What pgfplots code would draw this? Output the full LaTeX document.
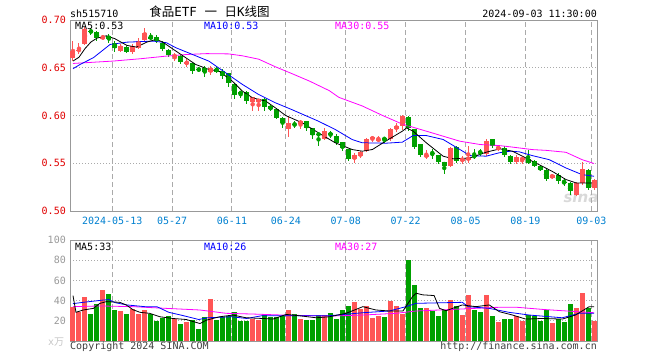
\documentclass[border=0pt]{standalone}
\usepackage{pgfplots}
\pgfplotsset{compat=1.18}
\usepackage{pgfplotstable}
\usepackage{fontspec}
\setmainfont{DejaVu Sans Mono}
\newfontfamily\cjk{Noto Sans CJK SC}
\newfontfamily\wmfont{DejaVu Sans}
\definecolor{cred}{HTML}{FF5555}
\definecolor{cgreen}{HTML}{00A000}
\definecolor{tickred}{HTML}{E00000}
\definecolor{dateblue}{HTML}{0080D0}
\definecolor{gridgray}{HTML}{AAAAAA}
\definecolor{framegray}{HTML}{999999}
\definecolor{mablue}{HTML}{0000FF}
\definecolor{mamag}{HTML}{FF00FF}

\pgfplotstableread{
i o h l c u v
0 0.660 0.678 0.657 0.668 1 33.8
1 0.668 0.676 0.664 0.669 1 28.4
2 0.675 0.693 0.674 0.691 1 44.0
3 0.689 0.692 0.684 0.687 0 27.0
4 0.687 0.689 0.678 0.681 0 36.3
5 0.681 0.684 0.680 0.682 1 50.7
6 0.683 0.685 0.676 0.680 0 47.0
7 0.676 0.678 0.667 0.671 0 30.7
8 0.668 0.675 0.667 0.673 1 29.7
9 0.672 0.673 0.665 0.667 0 27.0
10 0.666 0.675 0.664 0.673 1 31.7
11 0.671 0.681 0.670 0.678 1 27.0
12 0.679 0.692 0.678 0.686 1 30.7
13 0.682 0.686 0.679 0.681 0 27.0
14 0.682 0.684 0.676 0.678 0 20.0
15 0.676 0.678 0.668 0.670 0 23.0
16 0.669 0.670 0.661 0.663 0 25.0
17 0.6615 0.665 0.657 0.663 1 22.0
18 0.662 0.663 0.654 0.656 0 17.0
19 0.655 0.659 0.651 0.6555 1 19.0
20 0.6545 0.655 0.643 0.647 0 21.0
21 0.6485 0.6505 0.6455 0.648 0 12.0
22 0.650 0.652 0.640 0.646 0 24.0
23 0.646 0.652 0.642 0.650 1 42.0
24 0.649 0.652 0.644 0.646 0 21.0
25 0.647 0.649 0.638 0.641 0 24.0
26 0.644 0.645 0.630 0.634 0 25.0
27 0.6325 0.634 0.617 0.622 0 28.4
28 0.624 0.626 0.6185 0.6235 0 20.0
29 0.625 0.6255 0.612 0.615 0 20.0
30 0.614 0.619 0.6045 0.619 1 22.0
31 0.614 0.6175 0.6045 0.617 1 21.0
32 0.617 0.6185 0.6045 0.609 0 26.0
33 0.610 0.611 0.6045 0.6065 0 24.0
34 0.607 0.608 0.596 0.5975 0 24.0
35 0.5975 0.598 0.587 0.5925 0 25.0
36 0.586 0.599 0.5775 0.592 1 30.7
37 0.591 0.594 0.587 0.5905 0 27.0
38 0.5915 0.595 0.586 0.594 1 22.0
39 0.594 0.594 0.5835 0.587 0 21.0
40 0.587 0.587 0.5755 0.580 0 21.0
41 0.5805 0.582 0.568 0.580 0 25.7
42 0.5755 0.587 0.574 0.5835 1 25.7
43 0.581 0.5835 0.5765 0.5805 0 28.0
44 0.579 0.581 0.5695 0.5715 0 21.7
45 0.572 0.572 0.5625 0.566 0 30.7
46 0.565 0.565 0.552 0.5545 0 35.0
47 0.5545 0.561 0.5505 0.559 1 39.0
48 0.5575 0.5625 0.5555 0.5615 1 31.7
49 0.5625 0.5765 0.5615 0.575 1 35.0
50 0.575 0.579 0.5725 0.5775 1 23.0
51 0.5735 0.579 0.572 0.5755 1 25.0
52 0.5758 0.5775 0.5715 0.5755 0 24.0
53 0.5755 0.587 0.573 0.586 1 40.0
54 0.5855 0.592 0.5825 0.5895 1 35.0
55 0.5895 0.601 0.5845 0.5995 1 26.3
56 0.598 0.5995 0.5835 0.587 0 80.0
57 0.586 0.586 0.565 0.567 0 55.0
58 0.5705 0.5705 0.5565 0.559 0 32.7
59 0.5565 0.5635 0.5545 0.559 1 32.7
60 0.561 0.565 0.5545 0.5605 0 29.7
61 0.559 0.559 0.5495 0.551 0 25.0
62 0.551 0.551 0.539 0.5475 0 31.0
63 0.547 0.567 0.546 0.566 1 40.7
64 0.567 0.5685 0.5505 0.552 0 35.0
65 0.5535 0.5575 0.5495 0.554 1 26.0
66 0.554 0.568 0.5505 0.5555 1 46.0
67 0.5575 0.5645 0.554 0.557 0 30.7
68 0.5618 0.565 0.5575 0.5613 0 28.7
69 0.560 0.5755 0.558 0.573 1 46.0
70 0.5755 0.5755 0.566 0.5685 0 25.0
71 0.5645 0.5695 0.5625 0.567 1 19.0
72 0.5665 0.568 0.5565 0.559 0 21.7
73 0.5575 0.559 0.5495 0.551 0 21.7
74 0.551 0.559 0.549 0.557 1 25.0
75 0.5543 0.5566 0.5497 0.5548 1 20.0
76 0.5546 0.5636 0.549 0.5504 0 25.7
77 0.552 0.5535 0.546 0.5476 0 25.0
78 0.547 0.548 0.5415 0.5427 0 20.0
79 0.5434 0.5445 0.5315 0.533 0 30.7
80 0.5346 0.539 0.5336 0.538 1 18.3
81 0.538 0.5395 0.5287 0.531 0 21.7
82 0.5301 0.5346 0.5266 0.5297 0 19.0
83 0.5294 0.5301 0.5172 0.5207 0 36.7
84 0.5172 0.5301 0.5154 0.5294 1 33.0
85 0.5294 0.551 0.5277 0.5441 1 47.7
86 0.5434 0.5441 0.5224 0.5242 0 32.3
87 0.5242 0.5336 0.5224 0.5329 1 20.0
}\kdata

\pgfplotsset{
  sina/.style={
    scale only axis, width=527bp, anchor=north west,
    xmin=-0.5, xmax=87.5,
    axis line style={framegray, line width=1bp},
    xtick={6.55,16.55,26.55,35.55,45.55,55.55,65.55,75.55,86.55},
    xmajorgrids, ymajorgrids,
    x grid style={gridgray, dash pattern=on 5bp off 3bp, line width=1bp},
    y grid style={gridgray, dash pattern=on 1bp off 2bp, line width=1bp},
    major tick length=0pt,
    /pgf/number format/assume math mode=true,
    yticklabel style={anchor=east, inner sep=0pt, xshift=-4bp},
  },
  wick/.style={only marks, mark=none,
    restrict expr to domain={\thisrow{u}}{#1:#1}},
}

\begin{document}
\fontsize{10bp}{12bp}\selectfont
\begin{tikzpicture}
\path[use as bounding box] (0,0) rectangle (660bp,-360bp);
\node[text=gray!30, font=\wmfont\bfseries\itshape\fontsize{15bp}{15bp}\selectfont, inner sep=0pt] at (581bp,-197bp) {sina};

% ---------- price panel ----------
\begin{axis}[sina,
  at={(70bp,-20bp)}, height=191bp,
  ymin=0.50, ymax=0.70,
  ytick={0.50,0.55,0.60,0.65,0.70},
  yticklabel style={text=tickred, /pgf/number format/.cd, fixed, fixed zerofill, precision=2},
  xticklabels={2024-05-13,05-27,06-11,06-24,07-08,07-22,08-05,08-19,09-03},
  xticklabel style={text=dateblue, anchor=north, inner sep=0pt, yshift=-5.5bp},
]
% wicks
\addplot[cred, wick=1, error bars/.cd, y dir=both, y explicit, error mark=none,
  error bar style={line width=1bp, draw=cred}]
  table[x=i, y expr={(\thisrow{h}+\thisrow{l})/2}, y error expr={(\thisrow{h}-\thisrow{l})/2}]{\kdata};
\addplot[cgreen, wick=0, error bars/.cd, y dir=both, y explicit, error mark=none,
  error bar style={line width=1bp, draw=cgreen}]
  table[x=i, y expr={(\thisrow{h}+\thisrow{l})/2}, y error expr={(\thisrow{h}-\thisrow{l})/2}]{\kdata};
% bodies
\addplot[cred, wick=1, error bars/.cd, y dir=both, y explicit, error mark=none,
  error bar style={line width=5bp, draw=cred}]
  table[x=i, y expr={(\thisrow{o}+\thisrow{c})/2}, y error expr={max(abs(\thisrow{c}-\thisrow{o})/2,0.0005)}]{\kdata};
\addplot[cgreen, wick=0, error bars/.cd, y dir=both, y explicit, error mark=none,
  error bar style={line width=5bp, draw=cgreen}]
  table[x=i, y expr={(\thisrow{o}+\thisrow{c})/2}, y error expr={max(abs(\thisrow{c}-\thisrow{o})/2,0.0005)}]{\kdata};
% MA30
\addplot[mamag, line width=0.8bp] coordinates {
(0,0.6545) (6.7,0.657) (11.2,0.6594) (15.6,0.6622) (19,0.6639) (22.3,0.6648) (26,0.6645)
(28.3,0.6625) (31,0.659) (33.8,0.651) (36.5,0.644) (39.5,0.636) (42.8,0.626) (44.4,0.619)
(48.3,0.610) (51.7,0.600) (55,0.591) (59,0.5836) (64.6,0.5731) (68,0.5696) (71.2,0.5685)
(73,0.5672) (76.7,0.5643) (79,0.5635) (82.3,0.5615) (85,0.5538) (87,0.5497)};
% MA10
\addplot[mablue, line width=0.8bp] coordinates {
(0,0.649) (1.2,0.6535) (3.4,0.6605) (6.2,0.6744) (9,0.6768) (13.4,0.6779) (15.6,0.6762)
(17.2,0.6709) (22.7,0.6569) (25.5,0.6447) (28.3,0.6325) (31,0.622) (33.8,0.6133) (36.5,0.6063)
(41,0.594) (43.8,0.5853) (46.6,0.5749) (48.3,0.5714) (52.3,0.5710) (55,0.5721) (56.8,0.579)
(59,0.579) (61.8,0.5749) (64.6,0.5644) (66.3,0.558) (69,0.5574) (71.2,0.561) (73,0.5626)
(74.5,0.562) (76.7,0.558) (79.5,0.5538) (82.3,0.5451) (85,0.5381) (87,0.5364)};
% MA5
\addplot[black, line width=0.8bp] coordinates {
(0,0.657) (1,0.661) (2,0.670) (3,0.677) (4,0.681) (5.6,0.6835) (7,0.6804) (9,0.6734)
(10.6,0.6716) (12.3,0.6768) (13.9,0.6797) (15,0.6768) (17.2,0.6674) (20.5,0.6534) (22.7,0.6482)
(24.4,0.6464) (26.6,0.636) (28.3,0.6255) (30,0.6185) (32.2,0.615) (33.8,0.608) (35.5,0.600)
(38.3,0.5923) (41,0.5818) (43.8,0.5714) (46.6,0.5644) (48.3,0.5626) (50,0.5644) (52.2,0.5731)
(55,0.5836) (55.7,0.587) (56.8,0.5836) (59,0.5714) (61.8,0.5574) (63.5,0.5546) (66.3,0.5556)
(69,0.5616) (71.3,0.5651) (73.4,0.5626) (76.7,0.5521) (80,0.5416) (82.3,0.533) (84,0.5294) (87,0.5294)};
\end{axis}

% ---------- volume panel ----------
\begin{axis}[sina,
  at={(70bp,-240bp)}, height=101bp,
  ymin=0, ymax=100,
  ytick={20,40,60,80,100},
  yticklabel style={text=framegray},
  xticklabels={},
]
\addplot[ycomb, cred, line width=5bp, restrict expr to domain={\thisrow{u}}{1:1}] table[x=i, y=v]{\kdata};
\addplot[ycomb, cgreen, line width=5bp, restrict expr to domain={\thisrow{u}}{0:0}] table[x=i, y=v]{\kdata};
\addplot[mamag, line width=0.8bp] coordinates {
(0,34) (4.5,34.7) (10,34) (15.6,32.3) (21.2,30.7) (25.6,27.4) (30,26.7) (35,25.7) (42.8,24.7)
(48.4,25.7) (53.9,27.4) (57.3,29.7) (65,31.7) (70.6,33.3) (73.9,33.5) (78.4,31.3) (81.7,30) (87,28)};
\addplot[mablue, line width=0.8bp] coordinates {
(0,37) (2,38.5) (5,40.5) (6,41) (7,38) (9,35.7) (12,34) (14,34) (16,28.4) (18,25.7) (21,21.3)
(22.5,23) (26.5,24) (29,22.3) (31.5,25) (35,25) (42.8,25) (48.4,28) (52.8,29.7) (55.6,34)
(57.3,37.3) (65,38.3) (66,34) (69.5,32.3) (72.8,28.4) (76.2,25.7) (81.7,23) (84.5,27.4) (87,27.4)};
\addplot[black, line width=0.8bp] coordinates {
(0,45) (0.5,28.4) (1.7,30.7) (3.4,32.3) (4.5,37.3) (5.6,39) (7.8,38.3) (8.9,35.7) (10,31)
(11.2,28.4) (12.8,27.4) (14.5,24) (16.7,22.3) (18.9,21.3) (21.2,17.3) (22.3,20.7) (24.5,24)
(26.7,25.7) (28.9,23) (31.7,22.3) (33.4,21.7) (35.6,26.3) (37.8,25) (40.6,23) (42.8,24)
(45.6,27.4) (48.4,34) (50.6,30.7) (52.8,29.7) (55.1,29.7) (56.7,44) (57.3,47.3) (58.4,45.7)
(60.3,45) (61.2,32.3) (62.3,30) (65,35.7) (67.3,34) (69.5,35.7) (71.2,29) (73.4,25.7)
(75.6,21.7) (78.4,22.3) (81.7,21.7) (83.9,25.7) (86.2,34) (87,34)};
\end{axis}

% ---------- texts ----------
\node[anchor=base west, inner sep=0pt] at (70bp,-17bp) {sh515710};
\node[anchor=base, inner sep=0pt, font=\fontsize{12.5bp}{14bp}\selectfont] at (209.5bp,-16.5bp)
  {{\cjk 食品}ETF {\cjk 一} {\cjk 日}K{\cjk 线图}};
\node[anchor=base east, inner sep=0pt] at (597bp,-17bp) {2024-09-03 11:30:00};
\node[anchor=base west, inner sep=0pt] at (75bp,-29bp) {MA5:0.53};
\node[anchor=base west, inner sep=0pt, text=mablue] at (204bp,-29bp) {MA10:0.53};
\node[anchor=base west, inner sep=0pt, text=mamag] at (335bp,-29bp) {MA30:0.55};
\node[anchor=base west, inner sep=0pt] at (75bp,-250bp) {MA5:33};
\node[anchor=base west, inner sep=0pt, text=mablue] at (204bp,-250bp) {MA10:26};
\node[anchor=base west, inner sep=0pt, text=mamag] at (335bp,-250bp) {MA30:27};
\node[anchor=base west, inner sep=0pt, text=gray!45] at (48bp,-345bp) {x{\cjk 万}};
\node[anchor=base west, inner sep=0pt, text=black!75] at (70bp,-349bp) {Copyright 2024 SINA.COM};
\node[anchor=base east, inner sep=0pt, text=black!75] at (597bp,-349bp) {http://finance.sina.com.cn};
\end{tikzpicture}
\end{document}
